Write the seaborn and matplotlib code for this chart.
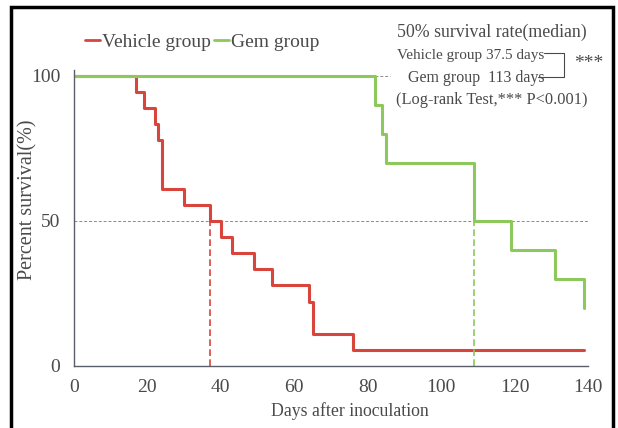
import numpy as np
import pandas as pd
import seaborn as sns
from matplotlib import pyplot as plt
from matplotlib.lines import Line2D
from matplotlib.patches import Rectangle

# Kaplan-Meier step points
vehicle_days = [0, 17, 19, 22, 23, 24, 30, 37, 40, 43, 49, 54, 64, 65, 76, 139]
vehicle_surv = [100, 94.4, 88.9, 83.3, 77.8, 61.1, 55.6, 50, 44.4, 38.9, 33.3, 27.8, 22.2, 11.1, 5.6, 5.6]
gem_days = [0, 82, 84, 85, 109, 119, 131, 139]
gem_surv = [100, 90, 80, 70, 50, 40, 30, 20]

groups = ["Vehicle group", "Gem group"]
median_days = {"Vehicle group": 37, "Gem group": 109}
x_ticks = [0, 20, 40, 60, 80, 100, 120, 140]
y_ticks = [0, 50, 100]

RED = "#d8453d"
GREEN = "#8cc85c"
TEXT = "#4a4a4a"
AXIS = "#5a5e68"
PALETTE = {"Vehicle group": RED, "Gem group": GREEN}

df = pd.concat([
    pd.DataFrame({"day": vehicle_days, "surv": vehicle_surv, "group": groups[0]}),
    pd.DataFrame({"day": gem_days, "surv": gem_surv, "group": groups[1]}),
])

sns.set_style("white")
plt.rcParams["font.family"] = ["Liberation Serif", "DejaVu Serif"]

fig = plt.figure(figsize=(6.18, 4.28), dpi=100)
ax = fig.add_axes([74 / 618, 1 - 366 / 428, (588 - 74) / 618, (366 - 70) / 428])

sns.lineplot(
    data=df, x="day", y="surv", hue="group", hue_order=groups,
    palette=PALETTE, estimator=None, sort=False, drawstyle="steps-post",
    lw=2.2, ax=ax, legend=False,
)

# median guides
ax.plot([0, 140], [50, 50], ls=(0, (3, 2)), lw=0.7, color="#8a8a8a", zorder=0)
ax.plot([82, 86], [100, 100], ls=(0, (3, 2)), lw=0.7, color="#8a8a8a", zorder=0)
for g in groups:
    ax.plot([median_days[g]] * 2, [0, 50], ls=(0, (4, 2)), lw=1.2, color=PALETTE[g])

ax.set_xlim(0, 140)
ax.set_ylim(0, 102)
ax.set_xticks(x_ticks)
ax.set_yticks(y_ticks)
ax.tick_params(axis="both", direction="in", length=5, width=0.9, color=AXIS,
               labelsize=14, labelcolor=TEXT)
ax.tick_params(axis="x", pad=9)
ax.tick_params(axis="y", pad=10)
for side in ["top", "right"]:
    ax.spines[side].set_visible(False)
for side in ["left", "bottom"]:
    ax.spines[side].set_color(AXIS)
    ax.spines[side].set_linewidth(1.0)
ax.set_xlabel("Days after inoculation", fontsize=12.8, color=TEXT, va="center")
ax.xaxis.set_label_coords((350 - 74) / 514, -(411 - 366) / 296)
ax.set_ylabel("Percent survival(%)", fontsize=14.5, color=TEXT, va="center")
ax.yaxis.set_label_coords(-(74 - 28) / 514, (366 - 200) / 296)

# legend across the top
handles = [Line2D([], [], color=PALETTE[g], lw=2) for g in groups]
fig.legend(handles, groups, loc="center left", bbox_to_anchor=(67 / 618, 1 - 42 / 428),
           ncol=2, frameon=False, fontsize=14, handlelength=0.8, handletextpad=0.1,
           columnspacing=0.15, labelcolor=TEXT)

# median / log-rank note
note = dict(color=TEXT, va="center", ha="left")
fig.text(397 / 618, 1 - 32 / 428, "50% survival rate(median)", fontsize=12.8, **note)
fig.text(397 / 618, 1 - 55 / 428, "Vehicle group 37.5 days", fontsize=11, **note)
fig.text(408 / 618, 1 - 78 / 428, "Gem group  113 days", fontsize=11.5, **note)
fig.text(396 / 618, 1 - 100 / 428, "(Log-rank Test,*** P<0.001)", fontsize=11.8, **note)
bx = [544 / 618, 564 / 618, 564 / 618, 538 / 618]
by = [1 - 53 / 428, 1 - 53 / 428, 1 - 77 / 428, 1 - 77 / 428]
fig.add_artist(Line2D(bx, by, color=TEXT, lw=0.8))
fig.text(574 / 618, 1 - 64 / 428, "***", fontsize=14, **note)

# frame round the figure
fig.add_artist(Rectangle((11 / 618, -0.05), (613 - 11) / 618, 1.05 - 7 / 428,
                         transform=fig.transFigure, fill=False, lw=2.5, color="black"))

plt.savefig("out.png", dpi=100)
